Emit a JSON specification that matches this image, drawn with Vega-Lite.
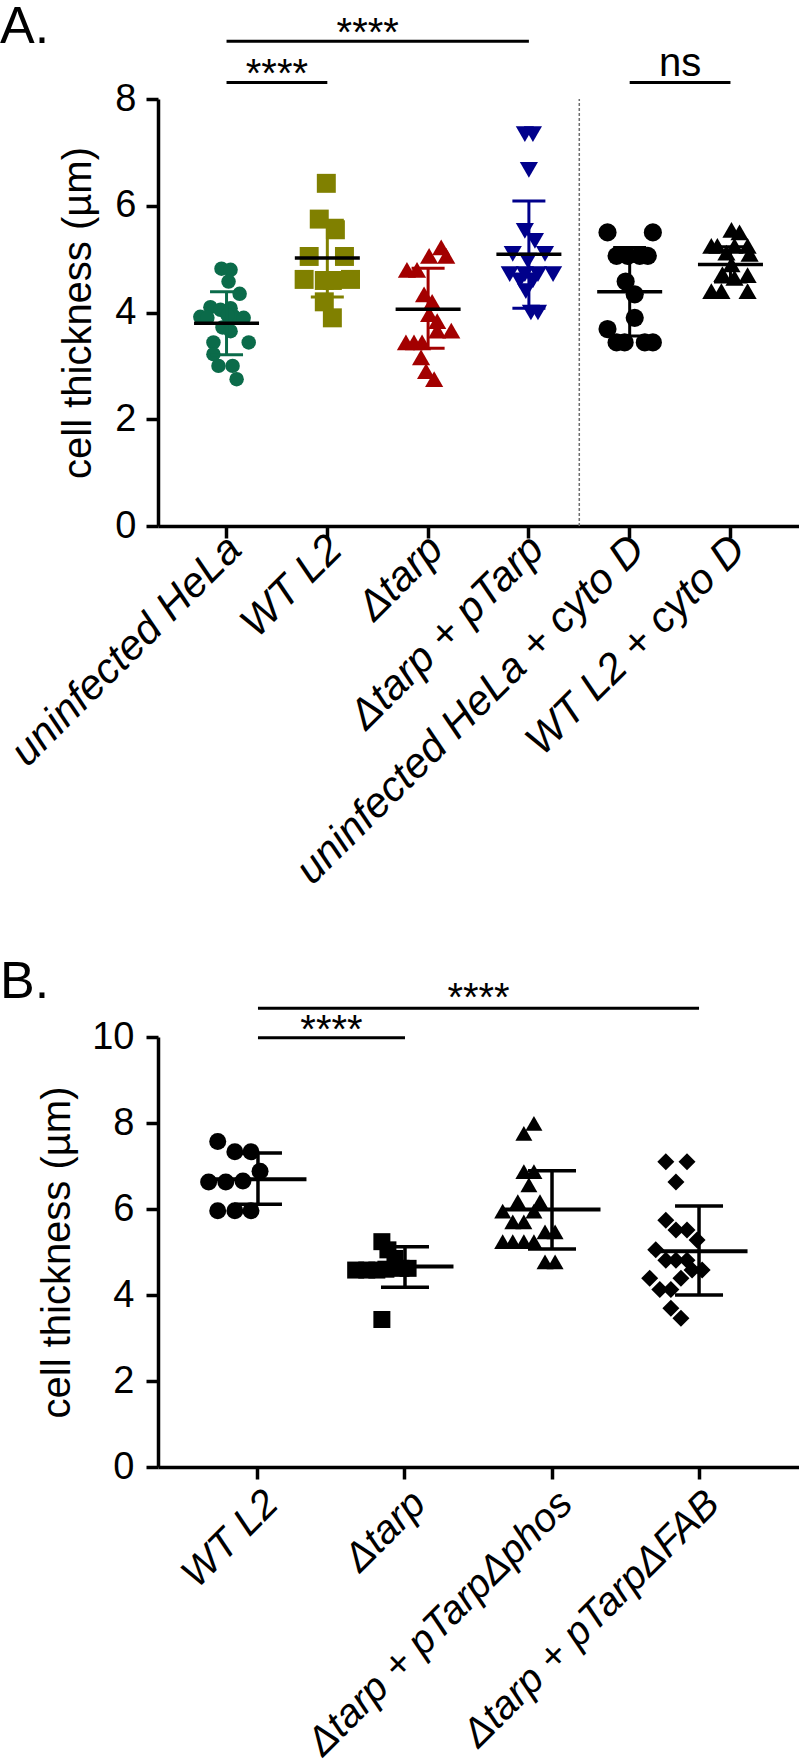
{
  "$schema": "https://vega.github.io/schema/vega-lite/v6.json",
  "background": "white",
  "padding": 0,
  "spacing": 64,
  "resolve": {"scale": {"shape": "independent", "color": "independent", "size": "independent"}},
  "config": {
    "font": "Liberation Sans",
    "view": {"stroke": null},
    "axis": {"grid": false, "domainColor": "black", "domainWidth": 3.5, "tickColor": "black", "tickWidth": 3.5, "tickSize": 12, "labelColor": "black", "titleColor": "black", "titleFontWeight": "normal", "labelFontWeight": "normal"},
    "title": {"fontWeight": "normal", "color": "black"}
  },
  "datasets": {
    "aPts": [
      {"g": "uninfected HeLa", "v": 4.82, "o": -0.5}, {"g": "uninfected HeLa", "v": 4.80, "o": 0.4}, {"g": "uninfected HeLa", "v": 4.58, "o": 0.2}, {"g": "uninfected HeLa", "v": 4.35, "o": 1.3},
      {"g": "uninfected HeLa", "v": 4.10, "o": -1.6}, {"g": "uninfected HeLa", "v": 4.05, "o": -0.6}, {"g": "uninfected HeLa", "v": 4.08, "o": 0.4}, {"g": "uninfected HeLa", "v": 3.92, "o": -2.6},
      {"g": "uninfected HeLa", "v": 3.90, "o": -1.9}, {"g": "uninfected HeLa", "v": 3.93, "o": 0.7}, {"g": "uninfected HeLa", "v": 3.90, "o": 1.7}, {"g": "uninfected HeLa", "v": 3.95, "o": 0.1},
      {"g": "uninfected HeLa", "v": 3.72, "o": -0.4}, {"g": "uninfected HeLa", "v": 3.65, "o": 0.4}, {"g": "uninfected HeLa", "v": 3.44, "o": -1.3}, {"g": "uninfected HeLa", "v": 3.44, "o": 2.2},
      {"g": "uninfected HeLa", "v": 3.22, "o": -1.3}, {"g": "uninfected HeLa", "v": 3.00, "o": -0.8}, {"g": "uninfected HeLa", "v": 3.00, "o": 0.6}, {"g": "uninfected HeLa", "v": 2.75, "o": 1.0},
      {"g": "WT L2", "v": 6.42, "o": -0.1}, {"g": "WT L2", "v": 5.75, "o": -0.8}, {"g": "WT L2", "v": 5.55, "o": 0.8}, {"g": "WT L2", "v": 5.05, "o": -1.8},
      {"g": "WT L2", "v": 5.05, "o": 1.7}, {"g": "WT L2", "v": 4.62, "o": -2.3}, {"g": "WT L2", "v": 4.60, "o": -0.3}, {"g": "WT L2", "v": 4.60, "o": 0.5},
      {"g": "WT L2", "v": 4.62, "o": 2.3}, {"g": "WT L2", "v": 4.20, "o": -0.3}, {"g": "WT L2", "v": 3.90, "o": 0.5},
      {"g": "Δtarp", "v": 5.22, "o": 1.3}, {"g": "Δtarp", "v": 5.06, "o": 0.1}, {"g": "Δtarp", "v": 5.06, "o": 1.8}, {"g": "Δtarp", "v": 4.80, "o": -2.1},
      {"g": "Δtarp", "v": 4.80, "o": -1.1}, {"g": "Δtarp", "v": 4.34, "o": -0.4}, {"g": "Δtarp", "v": 4.20, "o": 0.4}, {"g": "Δtarp", "v": 3.97, "o": 0.1},
      {"g": "Δtarp", "v": 3.84, "o": 0.9}, {"g": "Δtarp", "v": 3.66, "o": 0.9}, {"g": "Δtarp", "v": 3.66, "o": 2.3}, {"g": "Δtarp", "v": 3.44, "o": -2.2},
      {"g": "Δtarp", "v": 3.44, "o": -1.4}, {"g": "Δtarp", "v": 3.44, "o": -0.6}, {"g": "Δtarp", "v": 3.16, "o": -0.7}, {"g": "Δtarp", "v": 2.90, "o": -0.2},
      {"g": "Δtarp", "v": 2.75, "o": 0.6},
      {"g": "Δtarp + pTarp", "v": 7.34, "o": -0.4}, {"g": "Δtarp + pTarp", "v": 7.34, "o": 0.4}, {"g": "Δtarp + pTarp", "v": 6.67, "o": 0.0}, {"g": "Δtarp + pTarp", "v": 5.53, "o": -0.4},
      {"g": "Δtarp + pTarp", "v": 5.34, "o": 0.6}, {"g": "Δtarp + pTarp", "v": 5.10, "o": -1.6}, {"g": "Δtarp + pTarp", "v": 5.10, "o": 1.6}, {"g": "Δtarp + pTarp", "v": 4.97, "o": -0.1},
      {"g": "Δtarp + pTarp", "v": 4.72, "o": -1.9}, {"g": "Δtarp + pTarp", "v": 4.72, "o": -0.4}, {"g": "Δtarp + pTarp", "v": 4.72, "o": 0.9}, {"g": "Δtarp + pTarp", "v": 4.72, "o": 2.4},
      {"g": "Δtarp + pTarp", "v": 4.60, "o": -0.9}, {"g": "Δtarp + pTarp", "v": 4.60, "o": 0.4}, {"g": "Δtarp + pTarp", "v": 4.40, "o": -0.3}, {"g": "Δtarp + pTarp", "v": 4.00, "o": 0.2},
      {"g": "Δtarp + pTarp", "v": 4.00, "o": 0.9},
      {"g": "uninfected HeLa + cyto D", "v": 5.50, "o": -2.2}, {"g": "uninfected HeLa + cyto D", "v": 5.50, "o": 2.3}, {"g": "uninfected HeLa + cyto D", "v": 5.06, "o": -1.3}, {"g": "uninfected HeLa + cyto D", "v": 5.06, "o": -0.2},
      {"g": "uninfected HeLa + cyto D", "v": 5.06, "o": 1.0}, {"g": "uninfected HeLa + cyto D", "v": 5.06, "o": 1.8}, {"g": "uninfected HeLa + cyto D", "v": 4.58, "o": -0.4}, {"g": "uninfected HeLa + cyto D", "v": 4.34, "o": 0.5},
      {"g": "uninfected HeLa + cyto D", "v": 3.90, "o": 0.5}, {"g": "uninfected HeLa + cyto D", "v": 3.69, "o": -2.2}, {"g": "uninfected HeLa + cyto D", "v": 3.44, "o": -1.3}, {"g": "uninfected HeLa + cyto D", "v": 3.44, "o": -0.5},
      {"g": "uninfected HeLa + cyto D", "v": 3.44, "o": 1.5}, {"g": "uninfected HeLa + cyto D", "v": 3.44, "o": 2.3},
      {"g": "WT L2 + cyto D", "v": 5.55, "o": 0.1}, {"g": "WT L2 + cyto D", "v": 5.50, "o": 0.9}, {"g": "WT L2 + cyto D", "v": 5.25, "o": -1.9}, {"g": "WT L2 + cyto D", "v": 5.25, "o": -1.3},
      {"g": "WT L2 + cyto D", "v": 5.25, "o": 0.4}, {"g": "WT L2 + cyto D", "v": 5.25, "o": 1.7}, {"g": "WT L2 + cyto D", "v": 5.12, "o": -0.4}, {"g": "WT L2 + cyto D", "v": 5.10, "o": 1.9},
      {"g": "WT L2 + cyto D", "v": 4.90, "o": 0.1}, {"g": "WT L2 + cyto D", "v": 4.72, "o": -0.8}, {"g": "WT L2 + cyto D", "v": 4.65, "o": 0.4}, {"g": "WT L2 + cyto D", "v": 4.70, "o": 1.7},
      {"g": "WT L2 + cyto D", "v": 4.40, "o": -1.9}, {"g": "WT L2 + cyto D", "v": 4.40, "o": -0.9}, {"g": "WT L2 + cyto D", "v": 4.40, "o": 1.7}
    ],
    "aSum": [
      {"g": "uninfected HeLa", "mean": 3.80, "lo": 3.21, "hi": 4.39},
      {"g": "WT L2", "mean": 5.02, "lo": 4.29, "hi": 5.73},
      {"g": "Δtarp", "mean": 4.06, "lo": 3.33, "hi": 4.83},
      {"g": "Δtarp + pTarp", "mean": 5.09, "lo": 4.08, "hi": 6.09},
      {"g": "uninfected HeLa + cyto D", "mean": 4.39, "lo": 3.56, "hi": 5.22},
      {"g": "WT L2 + cyto D", "mean": 4.90, "lo": 4.57, "hi": 5.23}
    ],
    "aSigR": [
      {"g1": "uninfected HeLa", "g2": "Δtarp + pTarp", "y": 9.08},
      {"g1": "uninfected HeLa", "g2": "WT L2", "y": 8.31},
      {"g1": "uninfected HeLa + cyto D", "g2": "WT L2 + cyto D", "y": 8.31}
    ],
    "aSigT": [
      {"g": "Δtarp", "t": "****", "y": 9.0, "p": "c"},
      {"g": "WT L2", "t": "****", "y": 8.23, "p": "s"},
      {"g": "WT L2 + cyto D", "t": "ns", "y": 8.43, "p": "s"}
    ],
    "bPts": [
      {"g": "WT L2", "v": 7.57, "o": -1.7}, {"g": "WT L2", "v": 7.33, "o": 0}, {"g": "WT L2", "v": 7.33, "o": 1.6}, {"g": "WT L2", "v": 6.88, "o": 2.5},
      {"g": "WT L2", "v": 6.63, "o": -2.6}, {"g": "WT L2", "v": 6.63, "o": -0.9}, {"g": "WT L2", "v": 6.65, "o": 0.8}, {"g": "WT L2", "v": 5.96, "o": -1.7},
      {"g": "WT L2", "v": 5.96, "o": 0}, {"g": "WT L2", "v": 5.96, "o": 1.6},
      {"g": "Δtarp", "v": 5.24, "o": 0}, {"g": "Δtarp", "v": 5.05, "o": 0.6}, {"g": "Δtarp", "v": 4.85, "o": 1.3}, {"g": "Δtarp", "v": 4.58, "o": -2.6},
      {"g": "Δtarp", "v": 4.58, "o": -1.5}, {"g": "Δtarp", "v": 4.58, "o": -0.5}, {"g": "Δtarp", "v": 4.62, "o": 1.9}, {"g": "Δtarp", "v": 4.62, "o": 2.6},
      {"g": "Δtarp", "v": 4.60, "o": 0.4}, {"g": "Δtarp", "v": 3.43, "o": 0},
      {"g": "Δtarp + pTarpΔphos", "v": 7.99, "o": 0.5}, {"g": "Δtarp + pTarpΔphos", "v": 7.76, "o": -0.5}, {"g": "Δtarp + pTarpΔphos", "v": 6.87, "o": -0.5}, {"g": "Δtarp + pTarpΔphos", "v": 6.87, "o": 0.5},
      {"g": "Δtarp + pTarpΔphos", "v": 6.56, "o": 0}, {"g": "Δtarp + pTarpΔphos", "v": 6.17, "o": -1.1}, {"g": "Δtarp + pTarpΔphos", "v": 6.17, "o": 1.1}, {"g": "Δtarp + pTarpΔphos", "v": 5.95, "o": -2.6},
      {"g": "Δtarp + pTarpΔphos", "v": 5.95, "o": 0.5}, {"g": "Δtarp + pTarpΔphos", "v": 5.70, "o": -1.6}, {"g": "Δtarp + pTarpΔphos", "v": 5.70, "o": -0.5}, {"g": "Δtarp + pTarpΔphos", "v": 5.47, "o": 1.6},
      {"g": "Δtarp + pTarpΔphos", "v": 5.47, "o": 2.6}, {"g": "Δtarp + pTarpΔphos", "v": 5.24, "o": -2.6}, {"g": "Δtarp + pTarpΔphos", "v": 5.24, "o": -1.6}, {"g": "Δtarp + pTarpΔphos", "v": 5.24, "o": -0.5},
      {"g": "Δtarp + pTarpΔphos", "v": 5.24, "o": 0.5}, {"g": "Δtarp + pTarpΔphos", "v": 4.77, "o": 1.6}, {"g": "Δtarp + pTarpΔphos", "v": 4.77, "o": 2.6},
      {"g": "Δtarp + pTarpΔFAB", "v": 7.10, "o": -1.0}, {"g": "Δtarp + pTarpΔFAB", "v": 7.10, "o": 1.1}, {"g": "Δtarp + pTarpΔFAB", "v": 6.63, "o": 0}, {"g": "Δtarp + pTarpΔFAB", "v": 5.74, "o": -1.0},
      {"g": "Δtarp + pTarpΔFAB", "v": 5.51, "o": 0}, {"g": "Δtarp + pTarpΔFAB", "v": 5.51, "o": 1.1}, {"g": "Δtarp + pTarpΔFAB", "v": 5.28, "o": 2.1}, {"g": "Δtarp + pTarpΔFAB", "v": 5.05, "o": -2.0},
      {"g": "Δtarp + pTarpΔFAB", "v": 4.81, "o": -1.0}, {"g": "Δtarp + pTarpΔFAB", "v": 4.81, "o": 0}, {"g": "Δtarp + pTarpΔFAB", "v": 4.81, "o": 1.1}, {"g": "Δtarp + pTarpΔFAB", "v": 4.58, "o": 1.6},
      {"g": "Δtarp + pTarpΔFAB", "v": 4.58, "o": 2.6}, {"g": "Δtarp + pTarpΔFAB", "v": 4.39, "o": -2.6}, {"g": "Δtarp + pTarpΔFAB", "v": 4.39, "o": 0.5}, {"g": "Δtarp + pTarpΔFAB", "v": 4.13, "o": -1.6},
      {"g": "Δtarp + pTarpΔFAB", "v": 4.13, "o": -0.5}, {"g": "Δtarp + pTarpΔFAB", "v": 3.69, "o": -0.5}, {"g": "Δtarp + pTarpΔFAB", "v": 3.46, "o": 0.5}
    ],
    "bSum": [
      {"g": "WT L2", "mean": 6.69, "lo": 6.11, "hi": 7.30},
      {"g": "Δtarp", "mean": 4.66, "lo": 4.18, "hi": 5.12},
      {"g": "Δtarp + pTarpΔphos", "mean": 5.99, "lo": 5.07, "hi": 6.89},
      {"g": "Δtarp + pTarpΔFAB", "mean": 5.02, "lo": 4.00, "hi": 6.07}
    ],
    "bSigR": [
      {"g1": "WT L2", "g2": "Δtarp + pTarpΔFAB", "y": 10.67},
      {"g1": "WT L2", "g2": "Δtarp", "y": 9.98}
    ],
    "bSigT": [
      {"g": "Δtarp + pTarpΔphos", "t": "****", "y": 10.6},
      {"g": "Δtarp", "t": "****", "y": 9.85}
    ]
  },
  "vconcat": [
    {
      "width": 641,
      "height": 427,
      "title": {"text": "A.", "anchor": "start", "frame": "group", "fontSize": 52, "dx": -158, "dy": 40, "offset": 0},
      "layer": [
        {
          "data": {"values": [{"g": "uninfected HeLa + cyto D"}]},
          "mark": {"type": "rule", "color": "#6e6e6e", "strokeWidth": 1.5, "strokeDash": [3, 2]},
          "encoding": {
            "x": {"field": "g", "type": "nominal", "bandPosition": 0, "title": null},
            "y": {"datum": 0},
            "y2": {"datum": 8}
          }
        },
        {
          "data": {"name": "aPts"},
          "mark": {"type": "point", "filled": true, "opacity": 1, "strokeWidth": 0},
          "encoding": {
            "x": {"field": "g", "type": "nominal", "title": null,
              "scale": {"type": "band", "domain": ["uninfected HeLa", "WT L2", "Δtarp", "Δtarp + pTarp", "uninfected HeLa + cyto D", "WT L2 + cyto D"], "paddingInner": 0, "paddingOuter": 0.18},
              "axis": {"labelAngle": -45, "labelFontSize": 42, "labelFontStyle": "italic", "labelPadding": 4, "labelOffset": 8, "labelLimit": 1000}},
            "xOffset": {"field": "o", "type": "quantitative", "scale": {"domain": [-5, 5]}},
            "y": {"field": "v", "type": "quantitative", "title": "cell thickness (µm)",
              "scale": {"domain": [0, 8], "nice": false},
              "axis": {"values": [0, 2, 4, 6, 8], "labelFontSize": 38, "labelPadding": 10, "titleFontSize": 40, "titlePadding": 16}},
            "color": {"field": "g", "type": "nominal", "legend": null,
              "scale": {"domain": ["uninfected HeLa", "WT L2", "Δtarp", "Δtarp + pTarp", "uninfected HeLa + cyto D", "WT L2 + cyto D"], "range": ["#0b6b4a", "#808000", "#a30000", "#00008b", "#000000", "#000000"]}},
            "shape": {"field": "g", "type": "nominal", "legend": null,
              "scale": {"domain": ["uninfected HeLa", "WT L2", "Δtarp", "Δtarp + pTarp", "uninfected HeLa + cyto D", "WT L2 + cyto D"], "range": ["circle", "square", "triangle-up", "triangle-down", "circle", "triangle-up"]}},
            "size": {"condition": [{"test": "datum.g === 'uninfected HeLa'", "value": 210}, {"test": "datum.g === 'WT L2'", "value": 360}], "value": 330}
          }
        },
        {
          "data": {"name": "aSum"},
          "mark": {"type": "rule", "strokeWidth": 3},
          "encoding": {
            "x": {"field": "g", "type": "nominal", "title": null},
            "y": {"field": "lo", "type": "quantitative", "title": "cell thickness (µm)"},
            "y2": {"field": "hi"},
            "color": {"field": "g", "type": "nominal", "legend": null}
          }
        },
        {
          "data": {"name": "aSum"},
          "mark": {"type": "tick", "size": 33, "thickness": 3, "opacity": 1},
          "encoding": {
            "x": {"field": "g", "type": "nominal", "title": null},
            "y": {"field": "lo", "type": "quantitative", "title": "cell thickness (µm)"},
            "color": {"field": "g", "type": "nominal", "legend": null}
          }
        },
        {
          "data": {"name": "aSum"},
          "mark": {"type": "tick", "size": 33, "thickness": 3, "opacity": 1},
          "encoding": {
            "x": {"field": "g", "type": "nominal", "title": null},
            "y": {"field": "hi", "type": "quantitative", "title": "cell thickness (µm)"},
            "color": {"field": "g", "type": "nominal", "legend": null}
          }
        },
        {
          "data": {"name": "aSum"},
          "mark": {"type": "tick", "size": 65, "thickness": 3.5, "opacity": 1, "color": "black"},
          "encoding": {
            "x": {"field": "g", "type": "nominal", "title": null},
            "y": {"field": "mean", "type": "quantitative", "title": "cell thickness (µm)"}
          }
        },
        {
          "data": {"name": "aSigR"},
          "mark": {"type": "rule", "strokeWidth": 3, "color": "black"},
          "encoding": {
            "x": {"field": "g1", "type": "nominal", "bandPosition": 0.5, "title": null},
            "x2": {"field": "g2", "bandPosition": 0.5},
            "y": {"field": "y", "type": "quantitative", "title": "cell thickness (µm)"}
          }
        },
        {
          "data": {"name": "aSigT"},
          "transform": [{"filter": "datum.p === 'c'"}],
          "mark": {"type": "text", "fontSize": 40, "baseline": "alphabetic", "color": "black", "dx": -10},
          "encoding": {
            "x": {"field": "g", "type": "nominal", "bandPosition": 0, "title": null},
            "y": {"field": "y", "type": "quantitative", "title": "cell thickness (µm)"},
            "text": {"field": "t"}
          }
        },
        {
          "data": {"name": "aSigT"},
          "transform": [{"filter": "datum.p === 's'"}],
          "mark": {"type": "text", "fontSize": 40, "baseline": "alphabetic", "color": "black"},
          "encoding": {
            "x": {"field": "g", "type": "nominal", "bandPosition": 0, "title": null},
            "y": {"field": "y", "type": "quantitative", "title": "cell thickness (µm)"},
            "text": {"field": "t"}
          }
        }
      ]
    },
    {
      "width": 641,
      "height": 430,
      "title": {"text": "B.", "anchor": "start", "frame": "group", "fontSize": 52, "dx": -158, "dy": 30, "offset": 0},
      "layer": [
        {
          "data": {"name": "bPts"},
          "mark": {"type": "point", "filled": true, "opacity": 1, "strokeWidth": 0, "color": "black"},
          "encoding": {
            "x": {"field": "g", "type": "nominal", "title": null,
              "scale": {"type": "band", "domain": ["WT L2", "Δtarp", "Δtarp + pTarpΔphos", "Δtarp + pTarpΔFAB"], "paddingInner": 0, "paddingOuter": 0.18},
              "axis": {"labelAngle": -45, "labelFontSize": 40, "labelFontStyle": "italic", "labelPadding": 4, "labelOffset": 0, "labelLimit": 1000}},
            "xOffset": {"field": "o", "type": "quantitative", "scale": {"domain": [-5, 5]}},
            "y": {"field": "v", "type": "quantitative", "title": "cell thickness (µm)",
              "scale": {"domain": [0, 10], "nice": false},
              "axis": {"values": [0, 2, 4, 6, 8, 10], "labelFontSize": 38, "labelPadding": 12, "titleFontSize": 40, "titlePadding": 14}},
            "shape": {"field": "g", "type": "nominal", "legend": null,
              "scale": {"domain": ["WT L2", "Δtarp", "Δtarp + pTarpΔphos", "Δtarp + pTarpΔFAB"], "range": ["circle", "square", "triangle-up", "diamond"]}},
            "size": {"value": 289}
          }
        },
        {
          "data": {"name": "bSum"},
          "mark": {"type": "rule", "strokeWidth": 3.5, "color": "black"},
          "encoding": {
            "x": {"field": "g", "type": "nominal", "title": null},
            "y": {"field": "lo", "type": "quantitative", "title": "cell thickness (µm)"},
            "y2": {"field": "hi"}
          }
        },
        {
          "data": {"name": "bSum"},
          "mark": {"type": "tick", "size": 48, "thickness": 3.5, "opacity": 1, "color": "black"},
          "encoding": {
            "x": {"field": "g", "type": "nominal", "title": null},
            "y": {"field": "lo", "type": "quantitative", "title": "cell thickness (µm)"}
          }
        },
        {
          "data": {"name": "bSum"},
          "mark": {"type": "tick", "size": 48, "thickness": 3.5, "opacity": 1, "color": "black"},
          "encoding": {
            "x": {"field": "g", "type": "nominal", "title": null},
            "y": {"field": "hi", "type": "quantitative", "title": "cell thickness (µm)"}
          }
        },
        {
          "data": {"name": "bSum"},
          "mark": {"type": "tick", "size": 97, "thickness": 4, "opacity": 1, "color": "black"},
          "encoding": {
            "x": {"field": "g", "type": "nominal", "title": null},
            "y": {"field": "mean", "type": "quantitative", "title": "cell thickness (µm)"}
          }
        },
        {
          "data": {"name": "bSigR"},
          "mark": {"type": "rule", "strokeWidth": 3, "color": "black"},
          "encoding": {
            "x": {"field": "g1", "type": "nominal", "bandPosition": 0.5, "title": null},
            "x2": {"field": "g2", "bandPosition": 0.5},
            "y": {"field": "y", "type": "quantitative", "title": "cell thickness (µm)"}
          }
        },
        {
          "data": {"name": "bSigT"},
          "mark": {"type": "text", "fontSize": 40, "baseline": "alphabetic", "color": "black"},
          "encoding": {
            "x": {"field": "g", "type": "nominal", "bandPosition": 0, "title": null},
            "y": {"field": "y", "type": "quantitative", "title": "cell thickness (µm)"},
            "text": {"field": "t"}
          }
        }
      ]
    }
  ]
}
